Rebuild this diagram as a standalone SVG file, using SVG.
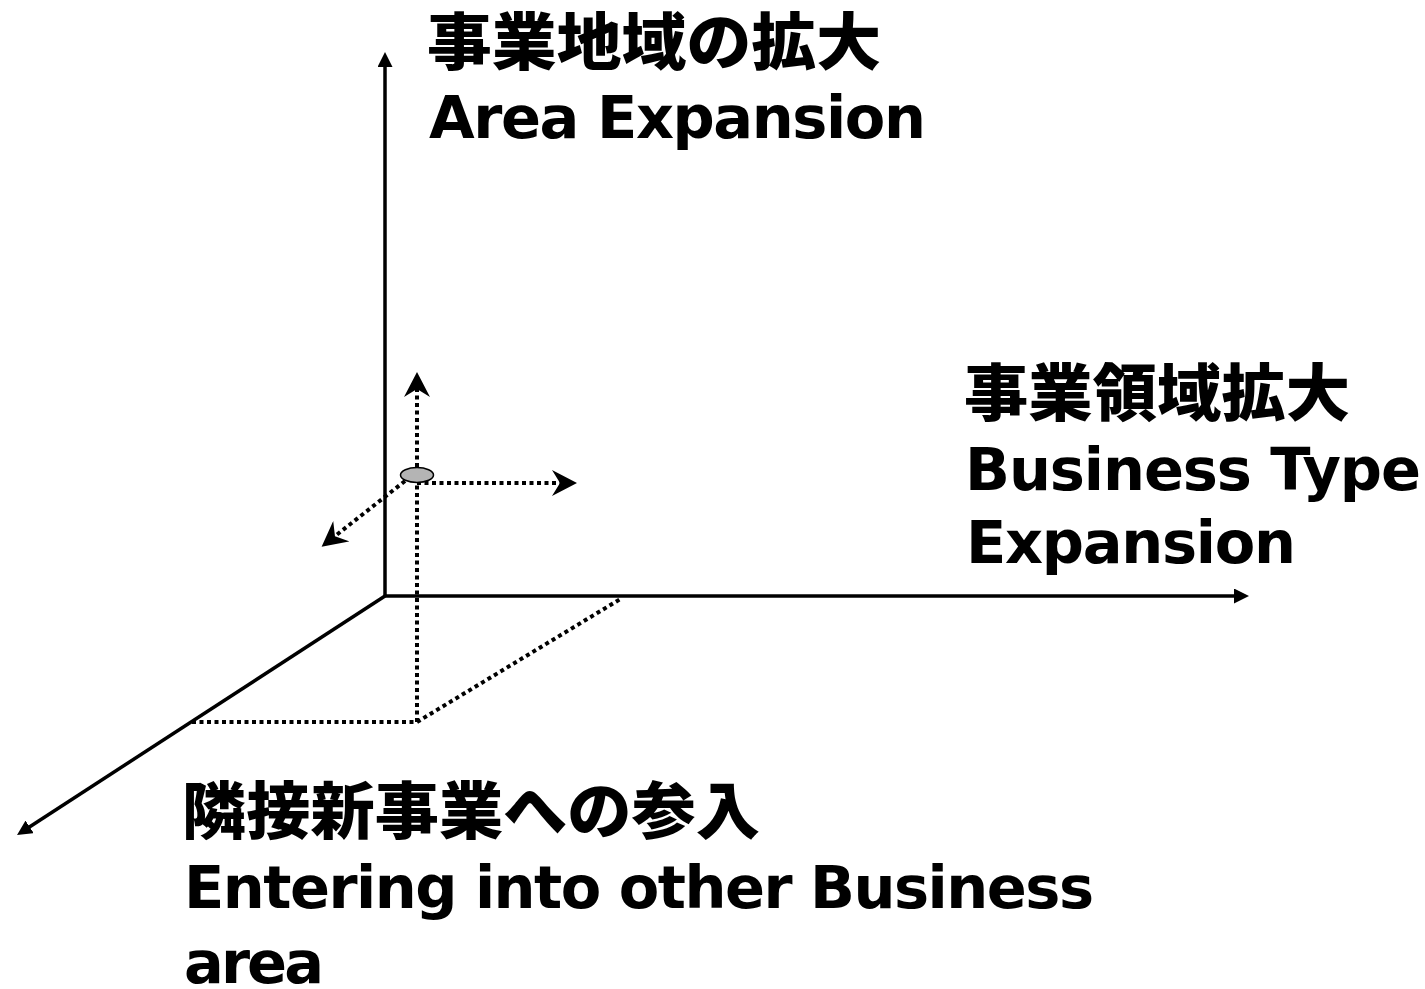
<svg xmlns="http://www.w3.org/2000/svg" width="1425" height="989" viewBox="0 0 1425 989">
<defs>
<style>
.axis{stroke:#000;stroke-width:3.5;fill:none}
.dot{stroke:#000;stroke-width:4;fill:none;stroke-dasharray:4 3.5}
.jp{font-family:"Noto Sans CJK JP","Noto Sans CJK SC",sans-serif;font-weight:900;font-size:62px;fill:#000}
.en{font-family:"DejaVu Sans","Liberation Sans",sans-serif;font-weight:bold;font-size:59px;fill:#000}
</style>
<marker id="tri" markerUnits="userSpaceOnUse" markerWidth="15" markerHeight="15" viewBox="0 0 15 15" refX="3" refY="7.5" orient="auto">
<path d="M0,0 L15,7.5 L0,15 z" fill="#000"/>
</marker>
<marker id="stealth" markerUnits="userSpaceOnUse" markerWidth="25" markerHeight="26" viewBox="0 0 25 26" refX="10" refY="13" orient="auto">
<path d="M0,0 L25,13 L0,26 L8,13 z" fill="#000"/>
</marker>
</defs>
<rect width="1425" height="989" fill="#fff"/>
<g id="connectors">
<line class="axis" x1="385" y1="596" x2="385" y2="64" marker-end="url(#tri)"/>
<line class="axis" x1="385" y1="596" x2="1237" y2="596" marker-end="url(#tri)"/>
<line class="axis" x1="385" y1="596" x2="27.1" y2="828.5" marker-end="url(#tri)"/>
<line class="dot" x1="417" y1="722" x2="417" y2="387" marker-end="url(#stealth)"/>
<line class="dot" x1="417" y1="483" x2="562" y2="483" marker-end="url(#stealth)"/>
<line class="dot" x1="405" y1="481" x2="333.4" y2="537.4" marker-end="url(#stealth)"/>
<line class="dot" x1="192" y1="722" x2="417" y2="722"/>
<line class="dot" x1="417" y1="722" x2="622" y2="598"/>
</g>
<g id="origin">
<ellipse cx="417" cy="475" rx="16.5" ry="7.5" fill="#b4b4b4" stroke="#000" stroke-width="1.5"/>
</g>
<g id="label-area">
<text class="jp" x="427" y="65" textLength="454" lengthAdjust="spacingAndGlyphs">事業地域の拡大</text>
<text class="en" x="429" y="138" textLength="497" lengthAdjust="spacing">Area Expansion</text>
</g>
<g id="label-business">
<text class="jp" x="964" y="416" textLength="386" lengthAdjust="spacingAndGlyphs">事業領域拡大</text>
<text class="en" x="965" y="490" textLength="456" lengthAdjust="spacing">Business Type</text>
<text class="en" x="966" y="563" textLength="330" lengthAdjust="spacing">Expansion</text>
</g>
<g id="label-entering">
<text class="jp" x="182" y="834" textLength="578" lengthAdjust="spacingAndGlyphs">隣接新事業への参入</text>
<text class="en" x="184" y="908" textLength="910" lengthAdjust="spacing">Entering into other Business</text>
<text class="en" x="184" y="983" textLength="140" lengthAdjust="spacing">area</text>
</g>
</svg>
